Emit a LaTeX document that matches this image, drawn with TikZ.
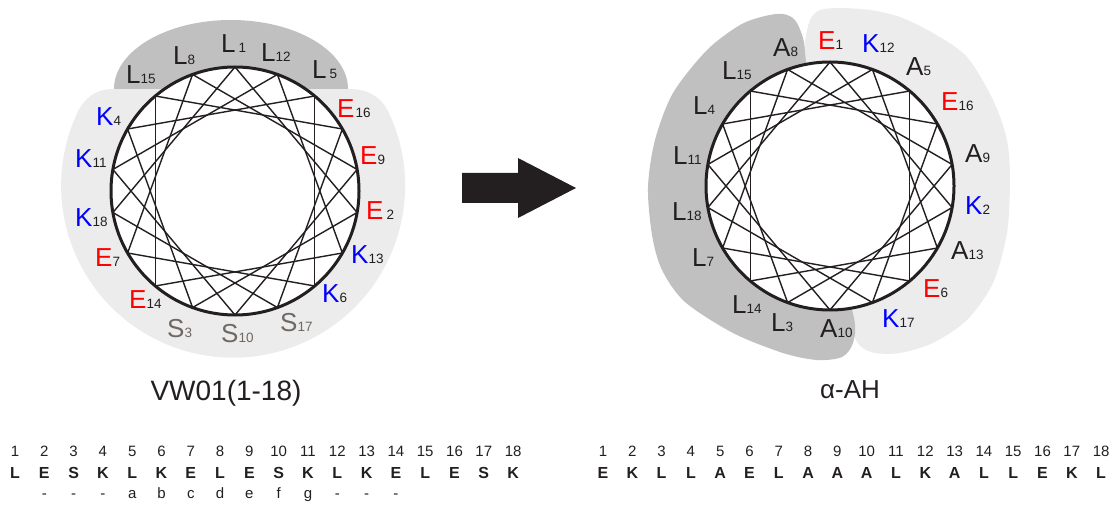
\documentclass[tikz,border=0pt]{standalone}
\usepackage{fontspec}
\setmainfont{Liberation Sans}
\usepackage{tikz}
\usepackage{xcolor}

\definecolor{txtblack}{RGB}{35,31,32}
\definecolor{resred}{RGB}{255,0,0}
\definecolor{resblue}{RGB}{0,0,255}
\definecolor{resgrey}{RGB}{112,104,98}
\definecolor{darkshade}{RGB}{192,192,192}
\definecolor{lightshade}{RGB}{236,236,236}

\newcommand{\res}[4][txtblack]{{\color{#2}\fontsize{26}{26}\selectfont #3}{\color{#1}\fontsize{13.5}{13.5}\selectfont #4}}

\begin{document}
\begin{tikzpicture}[x=1pt, y=1pt,
		reslabel/.style={anchor=base west, inner sep=0pt, text=txtblack},
		wheelname/.style={anchor=base, inner sep=0pt, text=txtblack},
		seqnum/.style={anchor=base, inner sep=0pt, text=txtblack, font=\fontsize{15}{15}\selectfont},
		seqres/.style={anchor=base, inner sep=0pt, text=txtblack, font=\fontsize{16}{16}\selectfont\bfseries},
		heptad/.style={anchor=base, inner sep=0pt, text=txtblack, font=\fontsize{15}{15}\selectfont},
		chord/.style={draw=txtblack, line width=1.4pt},
		wheel/.style={draw=txtblack, line width=3pt}]
		\useasboundingbox (0,0) rectangle (1114,504);

		\fill[lightshade] (113,415) -- (350,415) to[out=0,in=115] (389,391) arc[start angle=25, end angle=-205, radius=172] to[out=65,in=180] (113,415) -- cycle;
		\fill[darkshade] (114,415) arc[start angle=180, end angle=0, x radius=117, y radius=69] -- cycle;

		\fill[lightshade] plot[smooth cycle] coordinates {(804,439) (805,462) (810,484) (820,494) (840,496) (870,494) (900,487) (933,471) (967,447) (993,404) (1007,364) (1010,324) (1007,271) (993,221) (967,184) (933,161) (900,151) (875,151) (860,158) (852,174) (852,194) (840,254) (820,354)};
		\fill[darkshade] plot[smooth cycle] coordinates {(806,442) (803,466) (795,484) (783,490) (765,488) (740,479) (707,454) (673,411) (655,364) (648,317) (652,269) (662,234) (685,202) (733,171) (783,151) (817,144) (842,147) (853,161) (854,186) (835,254) (815,354)};

		\begin{scope}[shift={(235,313)}]
			\fill[white] (0,0) circle[radius=124];
			\foreach \n in {1,...,18}
				\coordinate (vw\n) at ({90-100*(\n-1)}:124);
			\foreach \n [remember=\n as \last (initially 18)] in {1,...,18}
				\draw[chord] (vw\last) -- (vw\n);
			\draw[wheel] (0,0) circle[radius=124];
		\end{scope}

		\begin{scope}[shift={(830,318)}]
			\fill[white] (0,0) circle[radius=124];
			\foreach \n in {1,...,18}
				\coordinate (ah\n) at ({90-100*(\n-1)}:124);
			\foreach \n [remember=\n as \last (initially 18)] in {1,...,18}
				\draw[chord] (ah\last) -- (ah\n);
			\draw[wheel] (0,0) circle[radius=124];
		\end{scope}

		\node[reslabel] (vwl1) at (221,451) {\res{txtblack}{L}{\hspace{3pt}1}};
		\node[reslabel] (vwl2) at (366,284) {\res{resred}{E}{\hspace{3pt}2}};
		\node[reslabel] (vwl3) at (167,167) {\res[resgrey]{resgrey}{S}{3}};
		\node[reslabel] (vwl4) at (96,378) {\res{resblue}{K}{4}};
		\node[reslabel] (vwl5) at (312,425) {\res{txtblack}{L}{\hspace{3pt}5}};
		\node[reslabel] (vwl6) at (322,201) {\res{resblue}{K}{6}};
		\node[reslabel] (vwl7) at (95,237) {\res{resred}{E}{7}};
		\node[reslabel] (vwl8) at (173,439) {\res{txtblack}{L}{8}};
		\node[reslabel] (vwl9) at (360,339) {\res{resred}{E}{9}};
		\node[reslabel] (vwl10) at (221,161) {\res[resgrey]{resgrey}{S}{10}};
		\node[reslabel] (vwl11) at (75,336) {\res{resblue}{K}{11}};
		\node[reslabel] (vwl12) at (261,442) {\res{txtblack}{L}{12}};
		\node[reslabel] (vwl13) at (351,240) {\res{resblue}{K}{13}};
		\node[reslabel] (vwl14) at (129,195) {\res{resred}{E}{14}};
		\node[reslabel] (vwl15) at (126,420) {\res{txtblack}{L}{15}};
		\node[reslabel] (vwl16) at (337,386) {\res{resred}{E}{\hspace{1pt}16}};
		\node[reslabel] (vwl17) at (280,172) {\res[resgrey]{resgrey}{S}{17}};
		\node[reslabel] (vwl18) at (75,277) {\res{resblue}{K}{18}};

		\node[reslabel] (ahl1) at (818,454) {\res{resred}{E}{1}};
		\node[reslabel] (ahl2) at (965,289) {\res{resblue}{K}{2}};
		\node[reslabel] (ahl3) at (771,172) {\res{txtblack}{L}{3}};
		\node[reslabel] (ahl4) at (693,389) {\res{txtblack}{L}{4}};
		\node[reslabel] (ahl5) at (906,428) {\res{txtblack}{A}{5}};
		\node[reslabel] (ahl6) at (923,206) {\res{resred}{E}{6}};
		\node[reslabel] (ahl7) at (692,237) {\res{txtblack}{L}{7}};
		\node[reslabel] (ahl8) at (773,447) {\res{txtblack}{A}{8}};
		\node[reslabel] (ahl9) at (965,341) {\res{txtblack}{A}{9}};
		\node[reslabel] (ahl10) at (820,167) {\res{txtblack}{A}{10}};
		\node[reslabel] (ahl11) at (673,339) {\res{txtblack}{L}{11}};
		\node[reslabel] (ahl12) at (862,451) {\res{resblue}{K}{12}};
		\node[reslabel] (ahl13) at (951,244) {\res{txtblack}{A}{13}};
		\node[reslabel] (ahl14) at (732,190) {\res{txtblack}{L}{14}};
		\node[reslabel] (ahl15) at (722,424) {\res{txtblack}{L}{15}};
		\node[reslabel] (ahl16) at (941,393) {\res{resred}{E}{16}};
		\node[reslabel] (ahl17) at (882,176) {\res{resblue}{K}{17}};
		\node[reslabel] (ahl18) at (672,283) {\res{txtblack}{L}{18}};

		\fill[txtblack] (462,331) -- (518,331) -- (518,346) -- (576,316) -- (518,286) -- (518,301) -- (462,301) -- cycle;

		\node[wheelname, font=\fontsize{28}{28}\selectfont] (vwname) at (226,104) {VW01(1-18)};
		\node[wheelname, font=\fontsize{26}{26}\selectfont] (ahname) at (850,106) {α-AH};

		\foreach \r [count=\i] in {L,E,S,K,L,K,E,L,E,S,K,L,K,E,L,E,S,K} {
				\node[seqnum] (vwnum\i) at ({15+29.3*(\i-1)},48) {\i};
				\node[seqres] (vwres\i) at ({15+29.3*(\i-1)},26) {\r};
			}
		\foreach \t [count=\i from 2] in {-,-,-,a,b,c,d,e,f,g,-,-,-}
			\node[heptad] (vwhep\i) at ({15+29.3*(\i-1)},6) {\t};

		\foreach \r [count=\i] in {E,K,L,L,A,E,L,A,A,A,L,K,A,L,L,E,K,L} {
				\node[seqnum] (ahnum\i) at ({603+29.3*(\i-1)},48) {\i};
				\node[seqres] (ahres\i) at ({603+29.3*(\i-1)},26) {\r};
			}
	\end{tikzpicture}
\end{document}
